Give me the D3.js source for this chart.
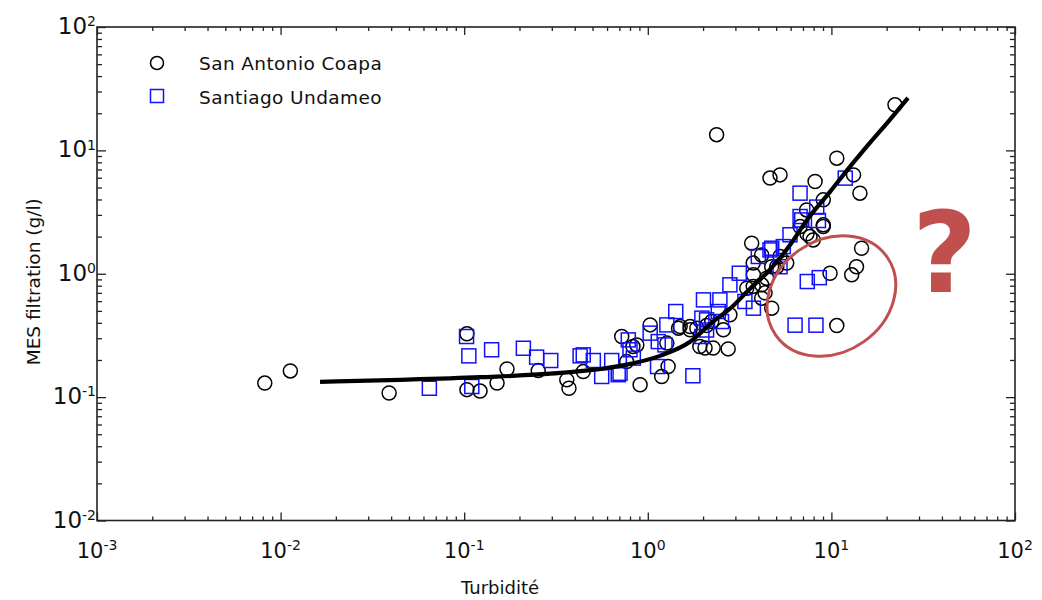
<!DOCTYPE html>
<html>
<head>
<meta charset="utf-8">
<script src="https://cdn.jsdelivr.net/npm/d3@7"></script>
<style>
  html, body { margin: 0; padding: 0; background: #fff; }
  svg { display: block; }
  text { font-family: "DejaVu Sans", sans-serif; fill: #111; }
</style>
</head>
<body>
<svg id="chart" width="1042" height="600"></svg>
<script>
// ---------------- data ----------------
const seriesNames = ["San Antonio Coapa", "Santiago Undameo"];

// San Antonio Coapa (black circles): [turbidity, MES g/l]
const coapaPoints = [
  [0.0082,0.13],[0.0113,0.163],[0.039,0.108],[0.1035,0.326],[0.1035,0.115],[0.122,0.112],
  [0.151,0.13],[0.171,0.169],[0.253,0.164],[0.362,0.138],[0.372,0.118],[0.445,0.161],
  [0.721,0.31],[0.767,0.194],[0.908,0.126],[1.03,0.385],[0.871,0.265],[0.83,0.257],[1.19,0.147],
  [1.29,0.177],[1.27,0.274],[1.47,0.362],[1.70,0.373],[1.92,0.257],[2.27,0.25],[1.85,0.362],
  [2.74,0.246],[2.05,0.25],[1.50,0.373],[1.70,0.351],[2.58,0.351],[2.80,0.465],[2.23,0.41],
  [2.09,0.38],[3.46,0.764],[3.76,0.98],[3.75,0.79],[4.17,0.813],[4.35,0.70],[4.17,0.634],
  [4.73,0.526],[4.44,0.92],[3.68,1.77],[4.17,1.42],[4.73,1.14],[5.25,1.38],[3.75,1.22],
  [5.71,1.22],[5.04,1.14],[7.96,1.88],[9.03,2.41],[7.36,2.11],[7.65,2.0],[6.75,2.41],
  [7.33,3.29],[9.03,3.97],[9.03,2.49],[2.37,13.4],[4.63,5.96],[5.25,6.33],[8.15,5.59],
  [10.7,8.65],[13.2,6.33],[14.3,4.50],[14.6,1.61],[13.7,1.14],[12.9,0.98],[9.83,1.01],
  [10.7,0.38],[22.2,23.4]
];

// Santiago Undameo (blue squares): [turbidity, MES g/l]
const undameoPoints = [
  [0.0646,0.118],[0.103,0.31],[0.106,0.216],[0.11,0.122],[0.141,0.242],[0.21,0.249],
  [0.248,0.211],[0.296,0.198],[0.428,0.216],[0.505,0.198],[0.561,0.147],[0.636,0.198],
  [0.69,0.152],[0.783,0.291],[0.80,0.242],[0.834,0.207],[1.03,0.33],[1.13,0.177],
  [1.14,0.282],[1.27,0.385],[1.42,0.494],[1.76,0.149],[1.97,0.437],[2.01,0.614],
  [0.706,0.156],[1.24,0.265],[2.09,0.423],[2.47,0.614],[2.42,0.494],[2.80,0.813],
  [3.15,1.01],[3.38,0.596],[3.76,0.526],[4.0,1.38],[4.63,1.56],[5.47,1.66],[5.25,1.14],
  [5.95,2.07],[6.89,2.73],[11.9,5.96],[6.75,4.50],[8.32,3.47],[6.75,2.91],[8.5,2.7],
  [4.73,1.61],[2.52,0.41],[2.09,0.35],[1.97,0.31],[0.445,0.22],
  [7.39,0.865],[8.59,0.93],[6.34,0.383],[8.24,0.383]
];

// fitted curve
const fitX = [0.0164,0.0447,0.122,0.333,0.706,1.165,1.70,2.26,2.80,3.60,4.46,5.95,7.36,9.82,12.6,16.2,20.8,26.1];
const fitY = [0.133,0.138,0.145,0.157,0.179,0.216,0.281,0.408,0.520,0.755,1.02,1.71,2.73,4.61,7.35,11.5,17.7,26.6];

// axes
const xDomain = [1e-3, 1e2];
const yDomain = [1e-2, 1e2];
const xMajorTicks = [1e-3, 1e-2, 1e-1, 1e0, 1e1, 1e2];
const yMajorTicks = [1e-2, 1e-1, 1e0, 1e1, 1e2];
const xTickExponents = ["-3", "-2", "-1", "0", "1", "2"];
const yTickExponents = ["-2", "-1", "0", "1", "2"];
const xTitle = "Turbidité";
const yTitle = "MES filtration (g/l)";

// annotation
const annotCenter = [10, 0.66];
const annotText = "?";

// ---------------- drawing ----------------
const svg = d3.select("#chart");
const L = 97, R = 1015, T = 27, B = 520.5;

const x = d3.scaleLog().domain(xDomain).range([L, R]);
const y = d3.scaleLog().domain(yDomain).range([B, T]);

function minors(domain) {
  const out = [];
  for (let e = Math.log10(domain[0]); e < Math.log10(domain[1]); e++) {
    for (let k = 2; k <= 9; k++) out.push(k * Math.pow(10, e));
  }
  return out;
}
const xMinor = minors(xDomain), yMinor = minors(yDomain);

const axisColor = "#222";
function styleAxis(g) {
  g.select(".domain").remove();
  g.selectAll("line").attr("stroke", axisColor).attr("stroke-width", 1.3);
}

// bottom
svg.append("g").attr("transform", `translate(0,${B})`)
  .call(d3.axisBottom(x).tickValues(xMajorTicks).tickSize(-8).tickFormat("")).call(styleAxis);
svg.append("g").attr("transform", `translate(0,${B})`)
  .call(d3.axisBottom(x).tickValues(xMinor).tickSize(-4).tickFormat("")).call(styleAxis);
// top
svg.append("g").attr("transform", `translate(0,${T})`)
  .call(d3.axisTop(x).tickValues(xMajorTicks).tickSize(-8).tickFormat("")).call(styleAxis);
svg.append("g").attr("transform", `translate(0,${T})`)
  .call(d3.axisTop(x).tickValues(xMinor).tickSize(-4).tickFormat("")).call(styleAxis);
// left
svg.append("g").attr("transform", `translate(${L},0)`)
  .call(d3.axisLeft(y).tickValues(yMajorTicks).tickSize(-9).tickFormat("")).call(styleAxis);
svg.append("g").attr("transform", `translate(${L},0)`)
  .call(d3.axisLeft(y).tickValues(yMinor).tickSize(-5).tickFormat("")).call(styleAxis);
// right
svg.append("g").attr("transform", `translate(${R},0)`)
  .call(d3.axisRight(y).tickValues(yMajorTicks).tickSize(-9).tickFormat("")).call(styleAxis);
svg.append("g").attr("transform", `translate(${R},0)`)
  .call(d3.axisRight(y).tickValues(yMinor).tickSize(-5).tickFormat("")).call(styleAxis);

// frame
svg.append("rect").attr("x", L).attr("y", T).attr("width", R - L).attr("height", B - T)
  .attr("fill", "none").attr("stroke", axisColor).attr("stroke-width", 1.6);

// tick labels
const xl = svg.append("g");
xMajorTicks.forEach((v, i) => {
  const t = xl.append("text").attr("x", x(v)).attr("y", 558)
    .attr("text-anchor", "middle").attr("font-size", 21);
  t.append("tspan").text("10");
  t.append("tspan").attr("dy", "-0.55em").attr("font-size", 14).text(xTickExponents[i]);
});
const yl = svg.append("g");
yMajorTicks.forEach((v, i) => {
  const t = yl.append("text").attr("x", 96).attr("y", y(v) + 7)
    .attr("text-anchor", "end").attr("font-size", 23);
  t.append("tspan").text("10");
  t.append("tspan").attr("dy", "-0.55em").attr("font-size", 14).text(yTickExponents[i]);
});

// titles
svg.append("text").attr("x", (L + R) / 2 - 56).attr("y", 594).attr("text-anchor", "middle")
  .attr("font-size", 18).text(xTitle);
svg.append("text").attr("transform", `translate(40,${(T + B) / 2 + 8}) rotate(-90)`)
  .attr("text-anchor", "middle").attr("font-size", 18.5).text(yTitle);

// points
const plot = svg.append("g");
plot.selectAll("circle.coapa").data(coapaPoints).join("circle")
  .attr("class", "coapa")
  .attr("cx", d => x(d[0])).attr("cy", d => y(d[1])).attr("r", 7)
  .attr("fill", "none").attr("stroke", "#000").attr("stroke-width", 1.5);
const s = 14;
plot.selectAll("rect.undameo").data(undameoPoints).join("rect")
  .attr("class", "undameo")
  .attr("x", d => x(d[0]) - s / 2).attr("y", d => y(d[1]) - s / 2)
  .attr("width", s).attr("height", s)
  .attr("fill", "none").attr("stroke", "#1010ff").attr("stroke-width", 1.5);

// fit curve
const fitData = fitX.map((v, i) => [v, fitY[i]]);
svg.append("path").datum(fitData)
  .attr("d", d3.line().x(d => x(d[0])).y(d => y(d[1])).curve(d3.curveMonotoneX))
  .attr("fill", "none").attr("stroke", "#000").attr("stroke-width", 4.2);

// legend
const leg = svg.append("g");
leg.append("circle").attr("cx", 157).attr("cy", 63).attr("r", 6.5)
  .attr("fill", "none").attr("stroke", "#000").attr("stroke-width", 1.5);
leg.append("text").attr("x", 199).attr("y", 70).attr("font-size", 18.5)
  .attr("letter-spacing", 0.4).text(seriesNames[0]);
leg.append("rect").attr("x", 150.5).attr("y", 89.5).attr("width", 13).attr("height", 13)
  .attr("fill", "none").attr("stroke", "#1010ff").attr("stroke-width", 1.5);
leg.append("text").attr("x", 199).attr("y", 104).attr("font-size", 18.5)
  .attr("letter-spacing", 0.4).text(seriesNames[1]);

// annotation ellipse and question mark
const annotColor = "#c0504d";
svg.append("ellipse")
  .attr("transform", `translate(${x(annotCenter[0])},${y(annotCenter[1])}) rotate(-35)`)
  .attr("rx", 68).attr("ry", 56)
  .attr("fill", "none").attr("stroke", annotColor).attr("stroke-width", 3);
svg.append("text").attr("x", x(annotCenter[0]) + 113).attr("y", 292)
  .attr("text-anchor", "middle").attr("font-family", "Open Sans, DejaVu Sans, sans-serif")
  .attr("font-weight", "bold").attr("font-size", 112).style("fill", annotColor).text(annotText);
</script>
</body>
</html>
